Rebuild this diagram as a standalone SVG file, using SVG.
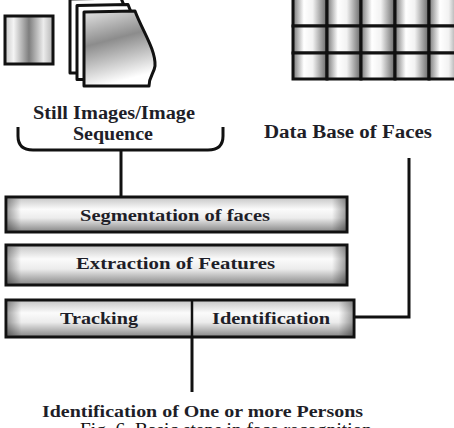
<svg xmlns="http://www.w3.org/2000/svg" width="454" height="428" viewBox="0 0 454 428">
<defs>
<linearGradient id="gSquare" x1="0" y1="0" x2="1" y2="0">
<stop offset="0" stop-color="#c8c8c8"/>
<stop offset="0.18" stop-color="#f4f4f4"/>
<stop offset="0.5" stop-color="#7e7e7e"/>
<stop offset="0.8" stop-color="#ececec"/>
<stop offset="1" stop-color="#b4b4b4"/>
</linearGradient>
<linearGradient id="gPage" x1="0" y1="0" x2="0.25" y2="1">
<stop offset="0" stop-color="#e4e4e4"/>
<stop offset="0.45" stop-color="#8c8c8c"/>
<stop offset="1" stop-color="#ffffff"/>
</linearGradient>
<linearGradient id="gCell" x1="0" y1="0" x2="1" y2="0">
<stop offset="0" stop-color="#777"/>
<stop offset="0.32" stop-color="#fff"/>
<stop offset="0.58" stop-color="#f2f2f2"/>
<stop offset="1" stop-color="#666"/>
</linearGradient>
<linearGradient id="gBox" x1="0" y1="0" x2="0" y2="1">
<stop offset="0" stop-color="#c4c4c4"/>
<stop offset="0.35" stop-color="#fbfbfb"/>
<stop offset="0.6" stop-color="#ececec"/>
<stop offset="1" stop-color="#858585"/>
</linearGradient>
<linearGradient id="gEnds" x1="0" y1="0" x2="1" y2="0">
<stop offset="0" stop-color="#000" stop-opacity="0.35"/>
<stop offset="0.04" stop-color="#000" stop-opacity="0"/>
<stop offset="0.96" stop-color="#000" stop-opacity="0"/>
<stop offset="1" stop-color="#000" stop-opacity="0.35"/>
</linearGradient>
<path id="page" d="M0,0 L51,-1 C58,18 72,38 71,54 C70,62 65,64 65,74 L0,74 Z"/>
</defs>
<style>
.ln{fill:none;stroke:#111;stroke-width:3}
.box{fill:url(#gBox);stroke:#111;stroke-width:3}
.ends{fill:url(#gEnds)}
.cell{fill:url(#gCell);stroke:#111;stroke-width:3}
.pg{stroke:#111;stroke-width:3;stroke-linejoin:round}
.lbl{font-family:"Liberation Serif","Times New Roman",serif;font-weight:bold;fill:#1e1e28;text-anchor:start}
.cap{font-family:"Liberation Serif","Times New Roman",serif;fill:#111;font-size:19px}
</style>

<g id="still-image">
<rect x="5" y="16" width="48" height="48" fill="url(#gSquare)" stroke="#111" stroke-width="3"/>
</g>

<g id="image-sequence">
<use href="#page" x="70" y="-1" class="pg" fill="#fff"/>
<use href="#page" x="77" y="5.5" class="pg" fill="#fff"/>
<use href="#page" x="84" y="12" class="pg" fill="url(#gPage)"/>
</g>

<g id="face-database">
<rect class="cell" x="293" y="-3" width="34" height="29"/>
<rect class="cell" x="327" y="-3" width="34" height="29"/>
<rect class="cell" x="361" y="-3" width="34" height="29"/>
<rect class="cell" x="395" y="-3" width="34" height="29"/>
<rect class="cell" x="429" y="-3" width="34" height="29"/>
<rect class="cell" x="293" y="26" width="34" height="27"/>
<rect class="cell" x="327" y="26" width="34" height="27"/>
<rect class="cell" x="361" y="26" width="34" height="27"/>
<rect class="cell" x="395" y="26" width="34" height="27"/>
<rect class="cell" x="429" y="26" width="34" height="27"/>
<rect class="cell" x="293" y="53" width="34" height="26"/>
<rect class="cell" x="327" y="53" width="34" height="26"/>
<rect class="cell" x="361" y="53" width="34" height="26"/>
<rect class="cell" x="395" y="53" width="34" height="26"/>
<rect class="cell" x="429" y="53" width="34" height="26"/>
</g>

<g id="label-still">
<text class="lbl" x="33" y="119" font-size="18" textLength="162" lengthAdjust="spacingAndGlyphs">Still Images/Image</text>
<text class="lbl" x="73" y="140" font-size="18" textLength="80" lengthAdjust="spacingAndGlyphs">Sequence</text>
</g>

<g id="label-database">
<text class="lbl" x="264" y="138" font-size="18" textLength="168" lengthAdjust="spacingAndGlyphs">Data Base of Faces</text>
</g>

<g id="connectors">
<path class="ln" d="M18,127 L18,136 Q18,150 33,150 L208,150 Q223,150 223,136 L223,127"/>
<path class="ln" d="M121,150 L121,196"/>
<path class="ln" d="M354,317 L409,317 L409,158"/>
<path class="ln" d="M192,337 L192,392"/>
</g>

<g id="segmentation">
<rect class="box" x="6" y="197" width="341" height="35"/>
<rect class="ends" x="7.5" y="198.5" width="338" height="32"/>
<text class="lbl" x="80" y="221" font-size="17" textLength="190" lengthAdjust="spacingAndGlyphs">Segmentation of faces</text>
</g>

<g id="extraction">
<rect class="box" x="6" y="245" width="341" height="40"/>
<rect class="ends" x="7.5" y="246.5" width="338" height="37"/>
<text class="lbl" x="76" y="269" font-size="17" textLength="199" lengthAdjust="spacingAndGlyphs">Extraction of Features</text>
</g>

<g id="tracking-identification">
<rect class="box" x="6" y="300" width="348" height="37"/>
<rect class="ends" x="7.5" y="301.5" width="345" height="34"/>
<line x1="192" y1="300" x2="192" y2="337" stroke="#111" stroke-width="2.5"/>
<text class="lbl" x="60" y="324" font-size="17" textLength="78" lengthAdjust="spacingAndGlyphs">Tracking</text>
<text class="lbl" x="212" y="324" font-size="17" textLength="118" lengthAdjust="spacingAndGlyphs">Identification</text>
</g>

<g id="result">
<text class="lbl" x="42" y="417" font-size="17" textLength="321" lengthAdjust="spacingAndGlyphs">Identification of One or more Persons</text>
</g>

<text class="cap" x="80" y="436" textLength="292" lengthAdjust="spacingAndGlyphs">Fig. 6. Basic steps in face recognition</text>
</svg>
